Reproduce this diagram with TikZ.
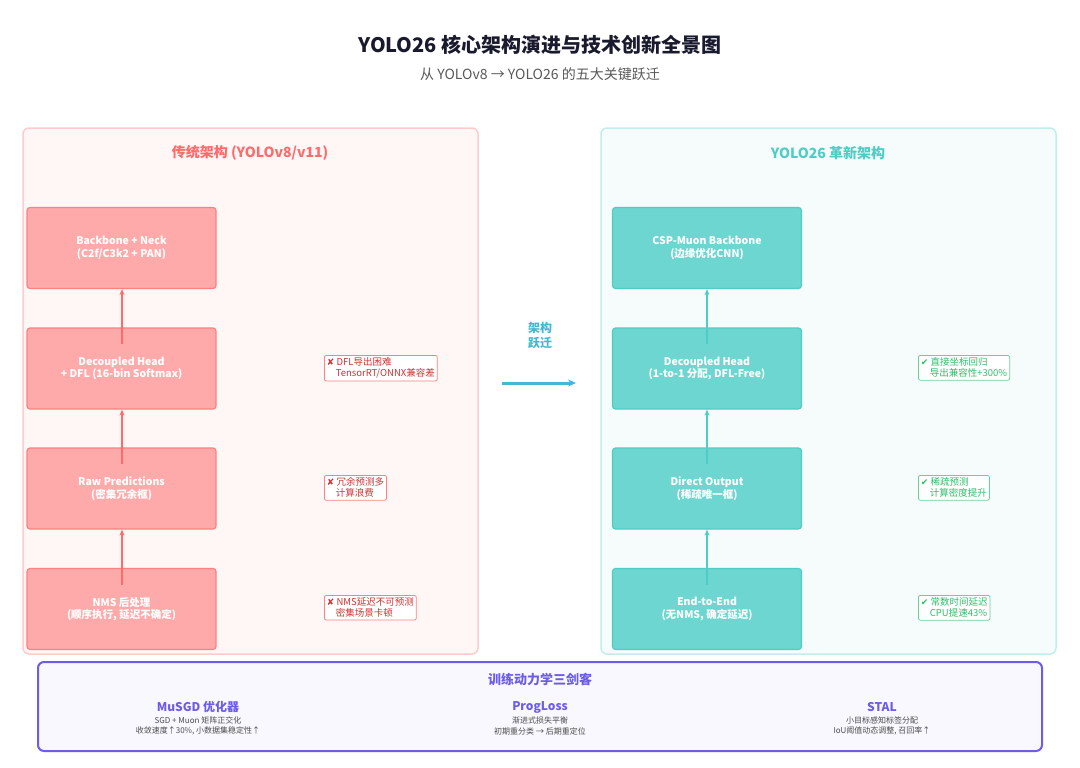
\documentclass[tikz,border=0pt]{standalone}
\usepackage{fontspec}
\setmainfont{Noto Sans CJK SC}
\newfontfamily\sym{DejaVu Sans}
\usetikzlibrary{arrows.meta}
\definecolor{navy}{HTML}{1A1A2E}
\definecolor{lred}{HTML}{FF6B6B}
\definecolor{lbox}{HTML}{FFAAAA}
\definecolor{lbor}{HTML}{FF8080}
\definecolor{teal}{HTML}{4ECDC4}
\definecolor{tbox}{HTML}{6ED6D0}
\definecolor{bad}{HTML}{CC3333}
\definecolor{good}{HTML}{2EBD6B}
\definecolor{purp}{HTML}{6C5CE7}
\definecolor{cyanb}{HTML}{45B7D1}
\begin{document}
\begin{tikzpicture}[x=1pt,y=-1pt,
 blk/.style={rounded corners=3,line width=1.2,minimum width=189,minimum height=81,text=white,align=center,font=\bfseries\fontsize{10.5}{12.5}\selectfont},
 lb/.style={blk,fill=lbox,draw=lbor},
 rb/.style={blk,fill=tbox,draw=teal},
 note/.style={rounded corners=2,line width=0.8,fill=white,anchor=north west,align=left,inner sep=2.5,font=\fontsize{9.5}{11}\selectfont},
 bn/.style={note,draw=lbor,text=bad},
 gn/.style={note,draw=good!70,text=good},
 la/.style={-{Stealth[length=6,width=5]},line width=1.8,draw=lred},
 ra/.style={-{Stealth[length=6,width=5]},line width=1.8,draw=teal},
 sm/.style={font=\fontsize{8}{10}\selectfont,text=black!70}]
\useasboundingbox (0,0) rectangle (1080,768);
\fill[white] (0,0) rectangle (1080,768);
\node[font=\bfseries\fontsize{20}{24}\selectfont,text=navy] (t) at (540,45) {YOLO26 核心架构演进与技术创新全景图};
\node[font=\fontsize{14}{16}\selectfont,text=black!65] (st) at (540,74) {从 YOLOv8 → YOLO26 的五大关键跃迁};
\draw[rounded corners=6,fill=lred!6,draw=lred!35,line width=1.5] (23,128) rectangle (478,654);
\draw[rounded corners=6,fill=teal!5,draw=teal!35,line width=1.5] (601,128) rectangle (1056,654);
\node[font=\bfseries\fontsize{14}{16}\selectfont,text=lred] (lt) at (250,153) {传统架构 (YOLOv8/v11)};
\node[font=\bfseries\fontsize{14}{16}\selectfont,text=teal] (rt) at (828,153) {YOLO26 革新架构};
\node[lb] (l1) at (121.5,248) {Backbone + Neck\\(C2f/C3k2 + PAN)};
\node[lb] (l2) at (121.5,368.5) {Decoupled Head\\+ DFL (16-bin Softmax)};
\node[lb] (l3) at (121.5,488.5) {Raw Predictions\\(密集冗余框)};
\node[lb] (l4) at (121.5,609) {NMS 后处理\\(顺序执行, 延迟不确定)};
\node[rb] (r1) at (707,248) {CSP-Muon Backbone\\(边缘优化CNN)};
\node[rb] (r2) at (707,368.5) {Decoupled Head\\(1-to-1 分配, DFL-Free)};
\node[rb] (r3) at (707,488.5) {Direct Output\\(稀疏唯一框)};
\node[rb] (r4) at (707,609) {End-to-End\\(无NMS, 确定延迟)};
\foreach \a/\b in {l2/l1,l3/l2,l4/l3}{\draw[la] ([xshift=0.5,yshift=-17]\a.north) -- ([xshift=0.5]\b.south);}
\foreach \a/\b in {r2/r1,r3/r2,r4/r3}{\draw[ra] ([yshift=-17]\a.north) -- (\b.south);}
\node[bn] (n1) at (324,355) {{\sym\small ✘} DFL导出困难\\\hspace{9pt}TensorRT/ONNX兼容差};
\node[bn] (n2) at (324,475) {{\sym\small ✘} 冗余预测多\\\hspace{9pt}计算浪费};
\node[bn] (n3) at (324,595) {{\sym\small ✘} NMS延迟不可预测\\\hspace{9pt}密集场景卡顿};
\node[gn] (g1) at (918,355) {{\sym\small ✔} 直接坐标回归\\\hspace{9pt}导出兼容性+300\%};
\node[gn] (g2) at (918,475) {{\sym\small ✔} 稀疏预测\\\hspace{9pt}计算密度提升};
\node[gn] (g3) at (918,595) {{\sym\small ✔} 常数时间延迟\\\hspace{9pt}CPU提速43\%};
\node[font=\bfseries\fontsize{12}{15}\selectfont,text=cyanb,align=center] (jt) at (540,335) {架构\\跃迁};
\coordinate (a0) at (502,383); \coordinate (a1) at (576,383);
\draw[-{Stealth[length=8,width=7]},line width=3,draw=cyanb] (a0) -- (a1);
\draw[rounded corners=6,fill=purp!4,draw=purp,line width=2] (38,662) rectangle (1042,751);
\node[font=\bfseries\fontsize{13}{15}\selectfont,text=purp] (bt) at (540,680) {训练动力学三剑客};
\node[font=\bfseries\fontsize{12}{14}\selectfont,text=purp] (h1) at (198,707) {MuSGD 优化器};
\node[font=\bfseries\fontsize{12}{14}\selectfont,text=purp] (h2) at (540,707) {ProgLoss};
\node[font=\bfseries\fontsize{12}{14}\selectfont,text=purp] (h3) at (882,707) {STAL};
\node[sm] (s1) at (198,720) {SGD + Muon 矩阵正交化};
\node[sm] (s2) at (198,731) {收敛速度↑30\%, 小数据集稳定性↑};
\node[sm] (s3) at (540,720) {渐进式损失平衡};
\node[sm] (s4) at (540,731) {初期重分类 → 后期重定位};
\node[sm] (s5) at (882,720) {小目标感知标签分配};
\node[sm] (s6) at (882,731) {IoU阈值动态调整, 召回率↑};
\end{tikzpicture}
\end{document}
